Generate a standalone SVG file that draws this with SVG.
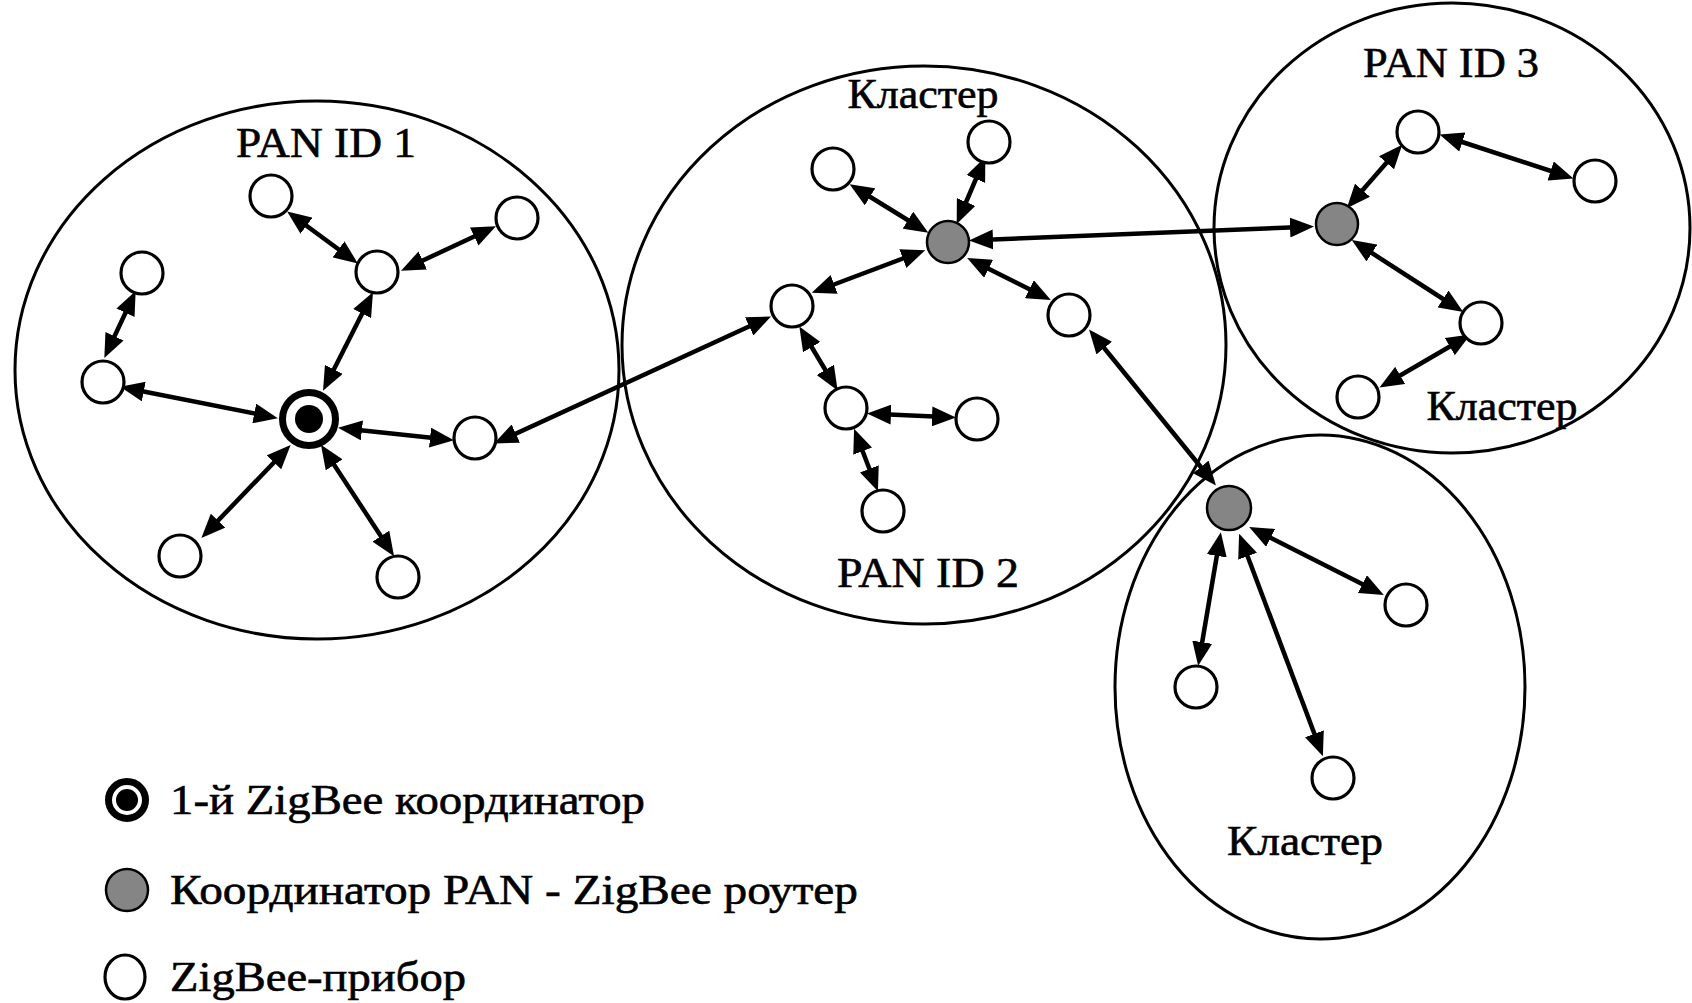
<svg xmlns="http://www.w3.org/2000/svg" width="1692" height="1003" viewBox="0 0 1692 1003">
  <style>
    .zone{fill:none;stroke:#000;stroke-width:3}
    .dev{fill:#fff;stroke:#000;stroke-width:3.2}
    .router{fill:#858585;stroke:#000;stroke-width:2.5}
    .ring{fill:#fff;stroke:#000;stroke-width:7}
    .lbl{font-family:"Liberation Serif","Times New Roman",serif;font-size:42px;fill:#000;stroke:#000;stroke-width:0.6}
  </style>
  <defs>
    <!-- filled double-ended arrowhead; tip sits 11px past the line end -->
    <marker id="ah" viewBox="0 0 24 20" refX="13" refY="10" markerWidth="24" markerHeight="20" markerUnits="userSpaceOnUse" orient="auto-start-reverse">
      <path d="M0,0 L24,10 L0,20 z" fill="#000"/>
    </marker>
  </defs>
  <rect width="1692" height="1003" fill="#fff"/>

  <!-- network boundaries -->
  <g id="zones">
    <ellipse id="zone-pan1" class="zone" cx="317" cy="370" rx="302" ry="269"/>
    <ellipse id="zone-pan2" class="zone" cx="924" cy="345" rx="302" ry="279"/>
    <ellipse id="zone-pan3" class="zone" cx="1452" cy="228" rx="238" ry="225"/>
    <ellipse id="zone-cluster4" class="zone" cx="1320" cy="687" rx="205" ry="252"/>
  </g>

  <!-- links -->
  <g id="connectors" stroke="#000" stroke-width="4.5" fill="none" marker-start="url(#ah)" marker-end="url(#ah)">
    <line x1="296" y1="218" x2="349" y2="257"/>
    <line x1="486" y1="231" x2="411" y2="266"/>
    <line x1="131" y1="301" x2="109" y2="348"/>
    <line x1="368" y1="302" x2="328" y2="381"/>
    <line x1="131" y1="389" x2="267" y2="416"/>
    <line x1="349" y1="429" x2="443" y2="439"/>
    <line x1="283" y1="453" x2="209" y2="530"/>
    <line x1="327" y1="454" x2="388" y2="547"/>
    <line x1="504" y1="439" x2="761" y2="321"/>
    <line x1="859" y1="190" x2="919" y2="227"/>
    <line x1="981" y1="167" x2="961" y2="214"/>
    <line x1="822" y1="289" x2="915" y2="254"/>
    <line x1="977" y1="263" x2="1041" y2="295"/>
    <line x1="980" y1="240" x2="1303" y2="227"/>
    <line x1="805" y1="336" x2="832" y2="381"/>
    <line x1="878" y1="414" x2="945" y2="417"/>
    <line x1="858" y1="439" x2="874" y2="481"/>
    <line x1="1096" y1="338" x2="1209" y2="477"/>
    <line x1="1354" y1="200" x2="1395" y2="153"/>
    <line x1="1450" y1="138" x2="1563" y2="175"/>
    <line x1="1361" y1="246" x2="1454" y2="306"/>
    <line x1="1461" y1="340" x2="1389" y2="382"/>
    <line x1="1219" y1="543" x2="1200" y2="655"/>
    <line x1="1243" y1="544" x2="1319" y2="746"/>
    <line x1="1259" y1="532" x2="1374" y2="590"/>
  </g>

  <g id="nodes">
    <g id="pan1-coordinator">
      <circle class="ring" cx="309" cy="419" r="26.5"/>
      <circle cx="309" cy="419" r="14" fill="#000"/>
    </g>
    <g id="pan1-n1"><circle class="dev" cx="271" cy="196" r="21"/></g>
    <g id="pan1-n2"><circle class="dev" cx="517" cy="218" r="21"/></g>
    <g id="pan1-n3"><circle class="dev" cx="377" cy="272" r="21"/></g>
    <g id="pan1-n4"><circle class="dev" cx="142" cy="273" r="21"/></g>
    <g id="pan1-n5"><circle class="dev" cx="103" cy="382" r="21"/></g>
    <g id="pan1-n6"><circle class="dev" cx="475" cy="438" r="21"/></g>
    <g id="pan1-n7"><circle class="dev" cx="180" cy="556" r="21"/></g>
    <g id="pan1-n8"><circle class="dev" cx="398" cy="577" r="21"/></g>

    <g id="pan2-router"><circle class="router" cx="948" cy="242" r="21"/></g>
    <g id="pan2-n1"><circle class="dev" cx="833" cy="169" r="21"/></g>
    <g id="pan2-n2"><circle class="dev" cx="989" cy="142" r="21"/></g>
    <g id="pan2-n3"><circle class="dev" cx="792" cy="306" r="21"/></g>
    <g id="pan2-n4"><circle class="dev" cx="1069" cy="315" r="21"/></g>
    <g id="pan2-n5"><circle class="dev" cx="846" cy="408" r="21"/></g>
    <g id="pan2-n6"><circle class="dev" cx="977" cy="419" r="21"/></g>
    <g id="pan2-n7"><circle class="dev" cx="883" cy="511" r="21"/></g>

    <g id="pan3-router"><circle class="router" cx="1337" cy="224" r="21"/></g>
    <g id="pan3-n1"><circle class="dev" cx="1418" cy="132" r="21"/></g>
    <g id="pan3-n2"><circle class="dev" cx="1595" cy="181" r="21"/></g>
    <g id="pan3-n3"><circle class="dev" cx="1481" cy="323" r="21"/></g>
    <g id="pan3-n4"><circle class="dev" cx="1358" cy="397" r="21"/></g>

    <g id="cluster4-router"><circle class="router" cx="1229" cy="508" r="22"/></g>
    <g id="cluster4-n1"><circle class="dev" cx="1406" cy="605" r="21"/></g>
    <g id="cluster4-n2"><circle class="dev" cx="1196" cy="687" r="21"/></g>
    <g id="cluster4-n3"><circle class="dev" cx="1333" cy="778" r="21"/></g>
  </g>

  <g id="labels" class="lbl" text-anchor="middle">
    <text x="326" y="157" textLength="180" lengthAdjust="spacingAndGlyphs">PAN ID 1</text>
    <text x="923" y="108" textLength="151" lengthAdjust="spacingAndGlyphs">Кластер</text>
    <text x="928" y="587" textLength="182" lengthAdjust="spacingAndGlyphs">PAN ID 2</text>
    <text x="1451" y="77" textLength="176" lengthAdjust="spacingAndGlyphs">PAN ID 3</text>
    <text x="1502" y="420" textLength="151" lengthAdjust="spacingAndGlyphs">Кластер</text>
    <text x="1305" y="855" textLength="156" lengthAdjust="spacingAndGlyphs">Кластер</text>
  </g>

  <g id="legend">
    <g id="legend-coordinator">
      <circle class="ring" cx="127" cy="800" r="18.5"/>
      <circle cx="127" cy="800" r="11" fill="#000"/>
      <text class="lbl" x="170" y="814" textLength="475" lengthAdjust="spacingAndGlyphs">1-й ZigBee координатор</text>
    </g>
    <g id="legend-router">
      <circle class="router" cx="127" cy="890" r="21" stroke-width="3"/>
      <text class="lbl" x="170" y="904" textLength="688" lengthAdjust="spacingAndGlyphs">Координатор PAN - ZigBee роутер</text>
    </g>
    <g id="legend-device">
      <ellipse class="dev" cx="125" cy="977" rx="20" ry="22"/>
      <text class="lbl" x="170" y="991" textLength="296" lengthAdjust="spacingAndGlyphs">ZigBee-прибор</text>
    </g>
  </g>
</svg>
